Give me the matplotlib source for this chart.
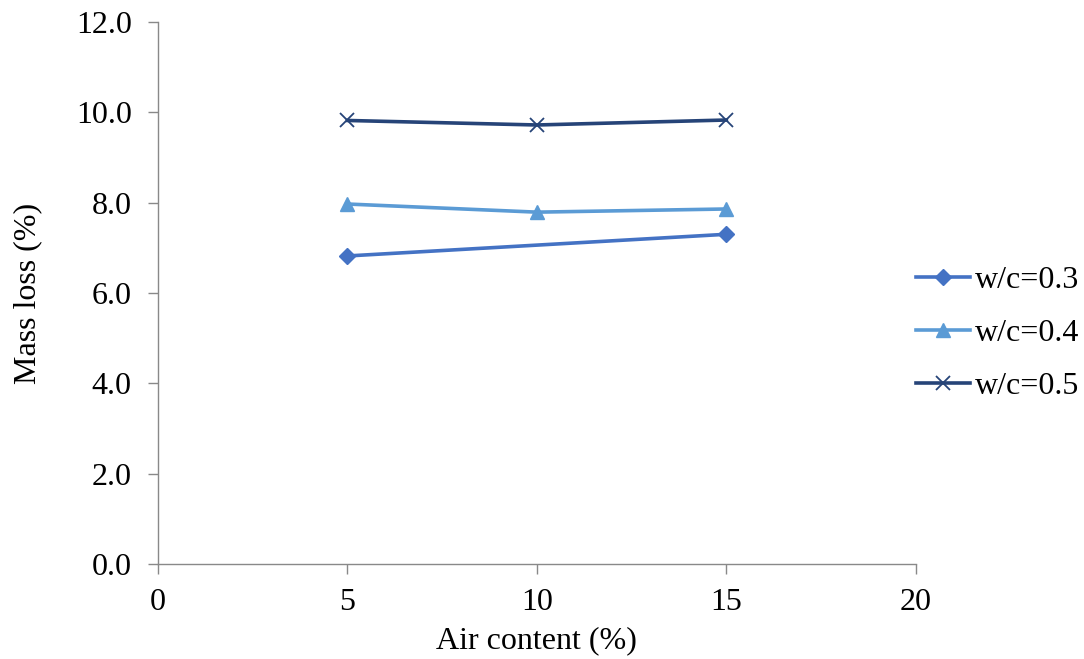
import matplotlib
matplotlib.use("Agg")
import matplotlib.pyplot as plt

air_content = [5, 10, 15]
wc03_x = [5, 15]
wc03 = [6.82, 7.30]
wc04 = [7.97, 7.79, 7.86]
wc05 = [9.82, 9.72, 9.83]
series_labels = ["w/c=0.3", "w/c=0.4", "w/c=0.5"]

plt.rcParams["font.family"] = ["Liberation Serif", "DejaVu Serif"]
FS = 23

fig = plt.figure(figsize=(10.84, 6.59), dpi=100)
ax = fig.add_axes([0.1458, 0.1442, 0.699, 0.8224])

ax.plot(wc03_x, wc03, color="#4472C4", lw=2.6, marker="D", ms=8, label=series_labels[0])
ax.plot(air_content, wc04, color="#5B9BD5", lw=2.6, marker="^", ms=10, label=series_labels[1])
ax.plot(air_content, wc05, color="#264478", lw=2.6, marker="x", ms=10, mew=1.3, label=series_labels[2])

ax.set_xlim(0, 20)
ax.set_ylim(0, 12)
ax.set_xticks([0, 5, 10, 15, 20])
ax.set_yticks([0, 2, 4, 6, 8, 10, 12])
ax.set_yticklabels([f"{v:.1f}" for v in ax.get_yticks()])

for side in ("top", "right"):
    ax.spines[side].set_visible(False)
for side in ("left", "bottom"):
    ax.spines[side].set_color("#898989")
    ax.spines[side].set_linewidth(1.0)
ax.tick_params(axis="both", direction="out", length=7, width=1.0, color="#898989",
               labelsize=FS)
ax.tick_params(axis="y", pad=12)
ax.tick_params(axis="x", pad=10)

ax.set_xlabel("Air content (%)", fontsize=FS, labelpad=7)
ax.set_ylabel("Mass loss (%)", fontsize=FS, labelpad=24)

ax.legend(loc="center left", bbox_to_anchor=(1.0, 0.425), frameon=False, fontsize=FS,
          handlelength=1.7, handletextpad=0.15, labelspacing=0.74, borderaxespad=0,
          borderpad=0)

fig.savefig("out.png", dpi=100)
